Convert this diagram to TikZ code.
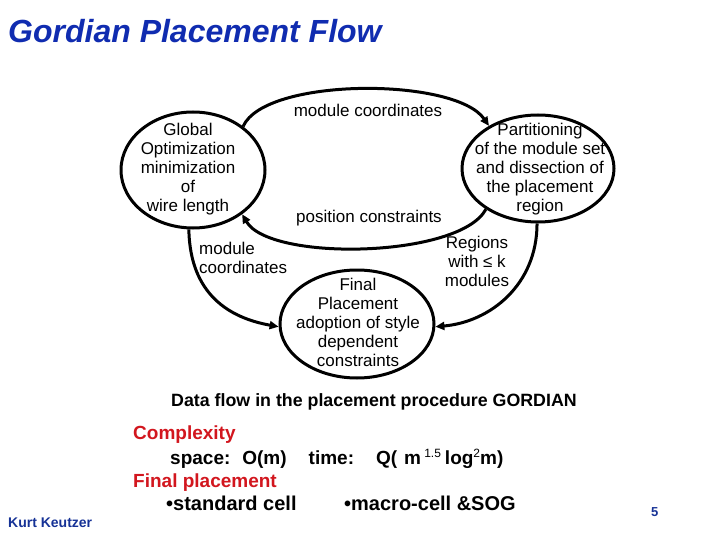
\documentclass[tikz,border=0pt]{standalone}
\usepackage{fontspec}
\setmainfont{Liberation Sans}
\usetikzlibrary{shapes.geometric,arrows.meta}
\definecolor{ttlblue}{RGB}{16,44,176}
\definecolor{authblue}{RGB}{22,50,150}
\definecolor{hdred}{RGB}{210,22,30}
\begin{document}
\begin{tikzpicture}[x=1pt,y=-1pt,
  ell/.style={draw,ellipse,line width=3pt,inner sep=0pt},
  etxt/.style={align=center,font=\fontsize{17}{19}\selectfont,inner sep=0pt},
  lbl/.style={font=\fontsize{17}{19}\selectfont,inner sep=0pt},
  flow/.style={line width=3pt,-{Triangle[length=9pt,width=8pt]}},
  plain/.style={anchor=base west,inner sep=0pt},
  big/.style={font=\fontsize{19}{22}\selectfont\bfseries},
  bul/.style={font=\fontsize{20}{22}\selectfont\bfseries}]
\useasboundingbox (0,0) rectangle (720,540);
% title
\node[plain,font=\fontsize{32}{36}\selectfont\bfseries\itshape,text=ttlblue] (title) at (8,43) {Gordian Placement Flow};
% ellipses
\node[ell,minimum width=144pt,minimum height=116pt] (L) at (193,170) {};
\node[etxt] (Lt) at (188,169) {Global\\Optimization\\minimization\\of\\wire length};
\node[ell,minimum width=152pt,minimum height=107pt] (R) at (538,168.5) {};
\node[etxt] (Rt) at (540,169) {Partitioning\\of the module set\\and dissection of\\the placement\\region};
\node[ell,minimum width=154pt,minimum height=108pt] (B) at (357,324) {};
\node[etxt] (Bt) at (358,322) {Final\\Placement\\adoption of style\\dependent\\constraints};
% labels
\node[lbl] (t1) at (368,110) {module coordinates};
\node[lbl] (t2) at (369,218) {position constraints};
\node[lbl,align=left,anchor=west] (t3) at (199,258) {module\\coordinates};
\node[lbl,align=center] (t4) at (477,261) {Regions\\with ≤ k\\modules};
% connectors
\draw[flow] (L.41) .. controls (265,77) and (455,77) .. (R.139);
\draw[flow] (R.-142) .. controls (460,258) and (270,262) .. (L.-42);
\draw[flow] (L.-94) .. controls (190,295) and (230,318) .. (B.-178);
\draw[flow] (R.-91) .. controls (537,285) and (490,322) .. (B.-2);
% caption and text
\node[plain,font=\fontsize{17.8}{20}\selectfont\bfseries] (df) at (171,406) {Data flow in the placement procedure GORDIAN};
\node[plain,big,text=hdred] (cx) at (133,439) {Complexity};
\node[plain,big] (sp) at (170,464) {space:\hspace{12pt}O(m)\hspace{22pt}time:\hspace{22pt}Q(\hspace{7pt}m\,{\fontsize{12}{12}\selectfont\mdseries\raisebox{7pt}{1.5}}\hspace{4pt}log{\fontsize{12}{12}\selectfont\mdseries\raisebox{7pt}{2}}m)};
\node[plain,big,text=hdred] (fp) at (133,487) {Final placement};
\node[plain,bul] (b1) at (166,510) {•standard cell};
\node[plain,bul] (b2) at (344,510) {•macro-cell \&SOG};
\node[plain,font=\fontsize{14}{16}\selectfont\bfseries,text=authblue] (auth) at (8,527) {Kurt Keutzer};
\node[plain,font=\fontsize{13}{15}\selectfont\bfseries,text=authblue] (pg) at (651,516) {5};
\end{tikzpicture}
\end{document}
